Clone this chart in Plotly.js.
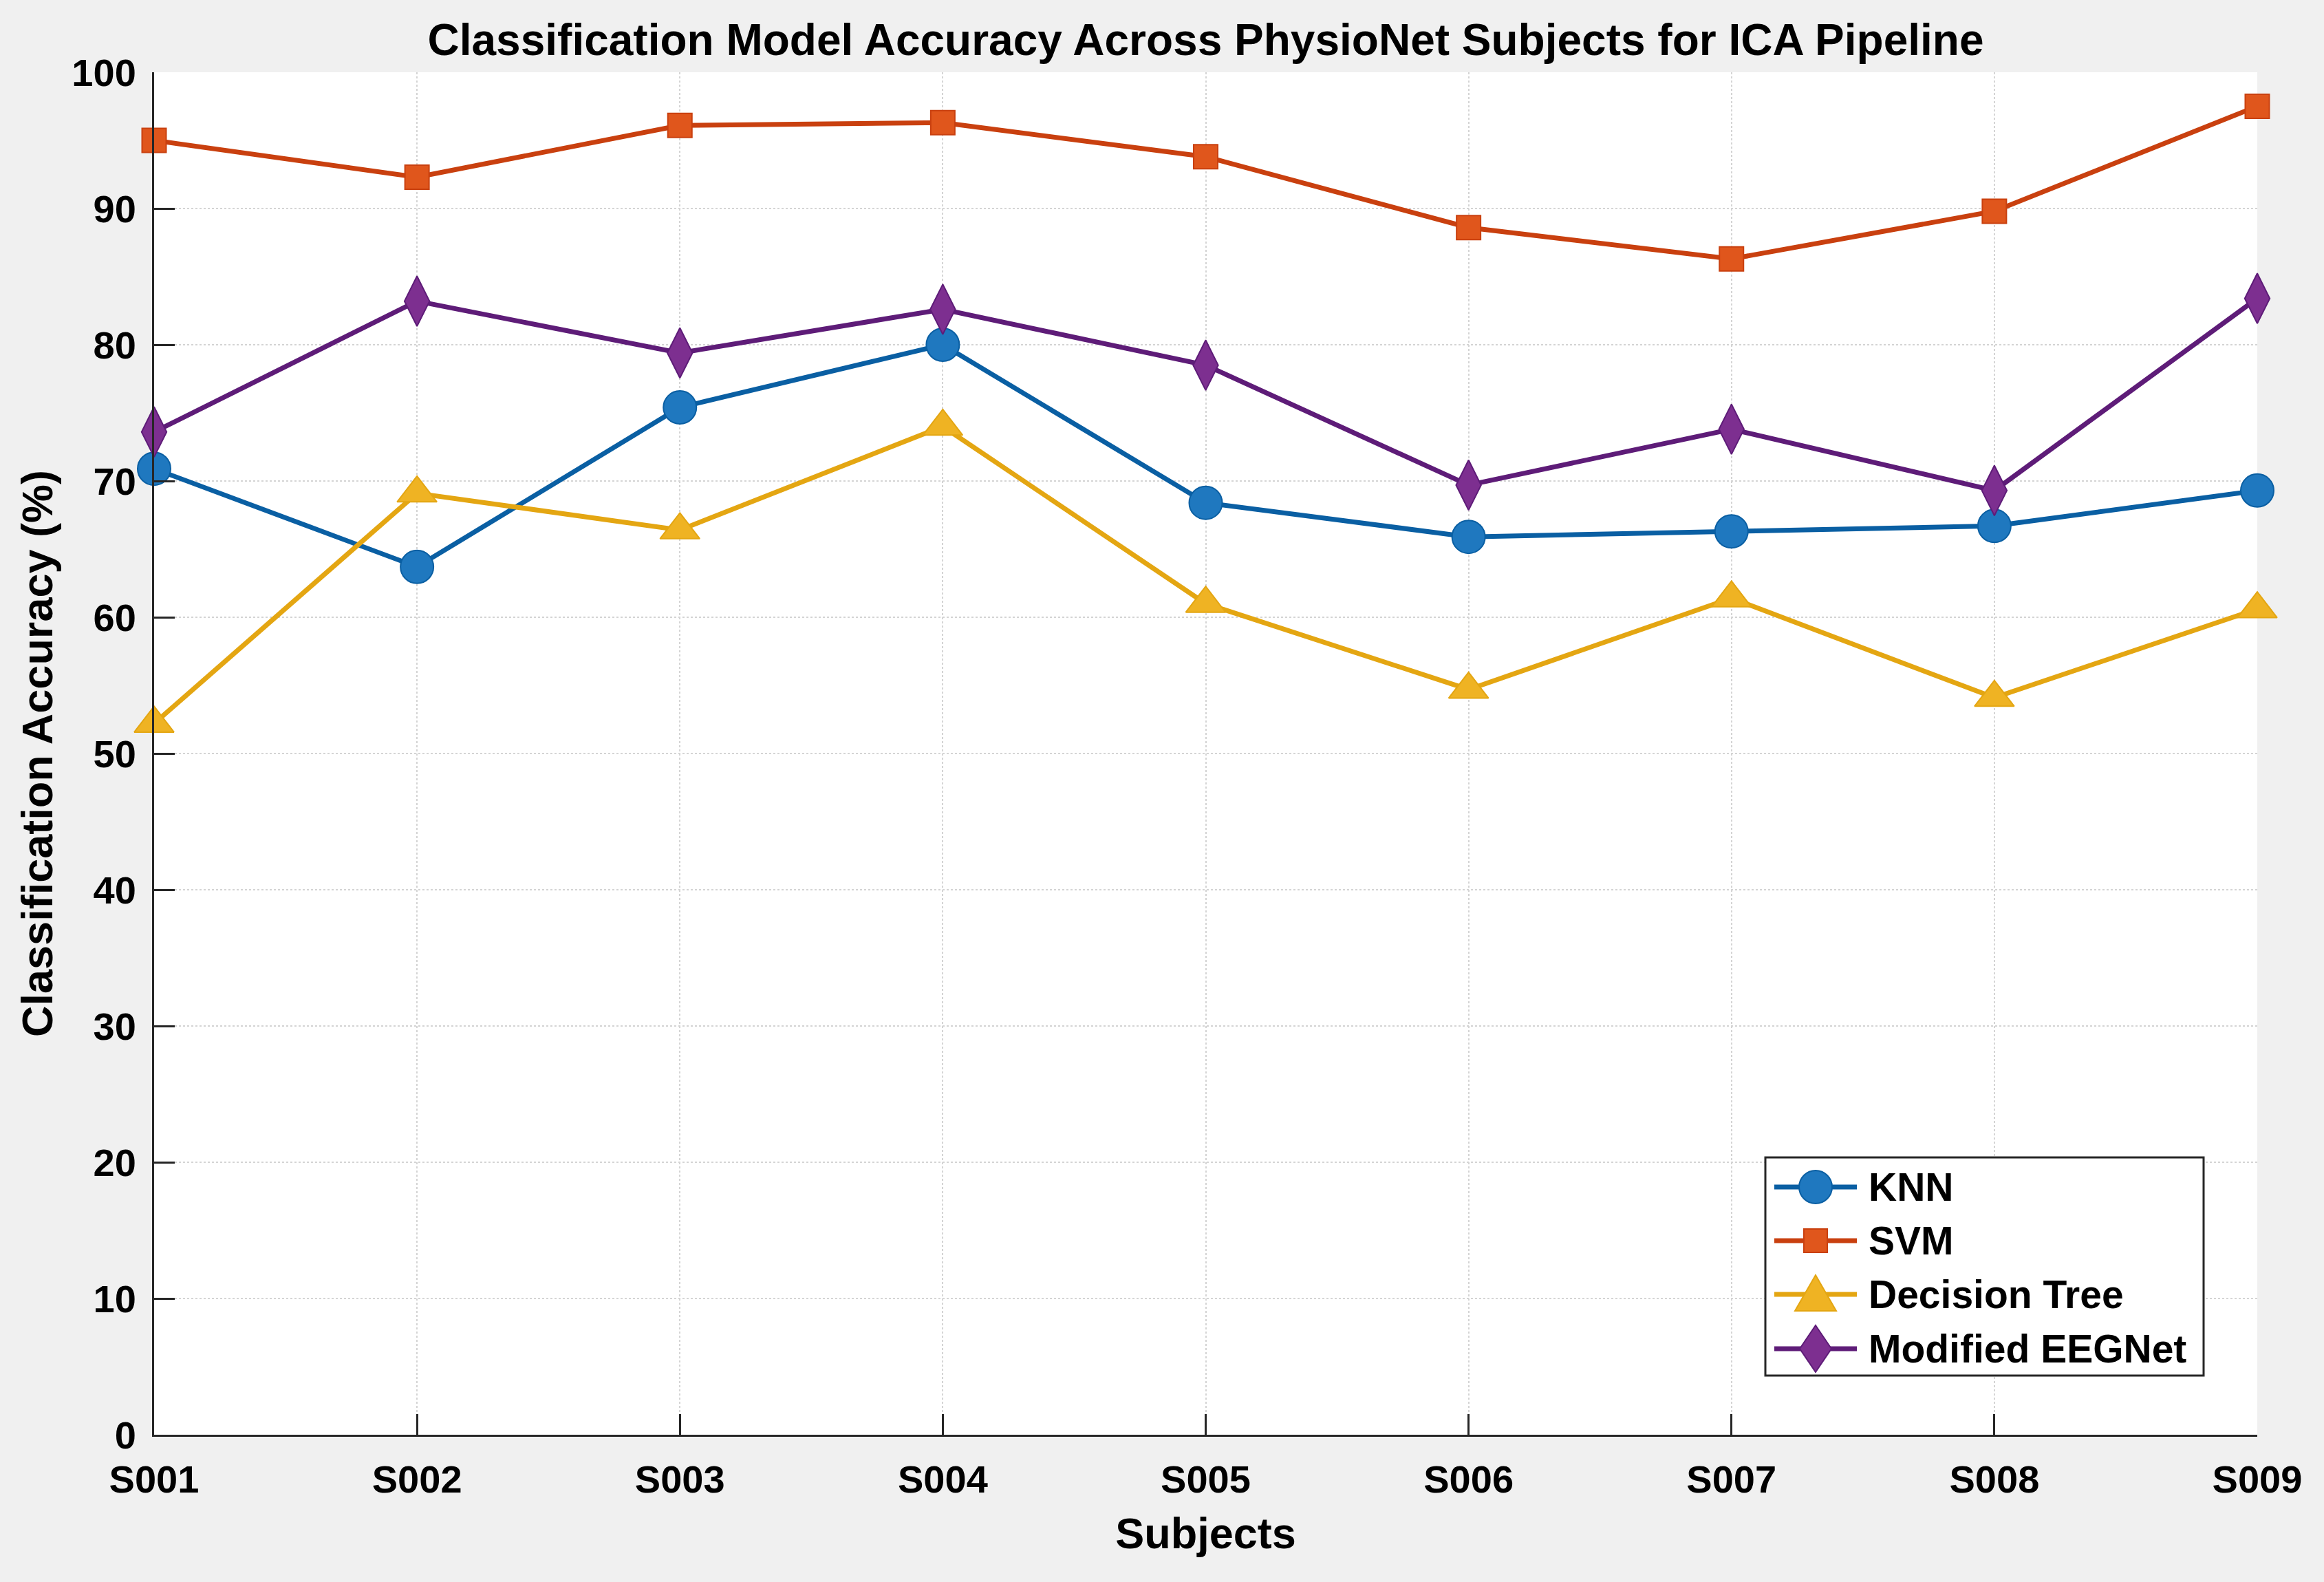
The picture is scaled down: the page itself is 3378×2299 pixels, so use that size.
<!DOCTYPE html>
<html>
<head>
<meta charset="utf-8">
<script src="https://cdn.plot.ly/plotly-3.0.1.min.js"></script>
<style>
  html, body { margin: 0; padding: 0; background: #f0f0f0; }
  #chart { width: 3378px; height: 2299px; }
</style>
</head>
<body>
<div id="chart"></div>
<script>
// values
var subjects = ['S001', 'S002', 'S003', 'S004', 'S005', 'S006', 'S007', 'S008', 'S009'];
var knn = [70.9, 63.7, 75.4, 80.0, 68.4, 65.9, 66.3, 66.7, 69.3];
var svm = [95.0, 92.3, 96.1, 96.3, 93.8, 88.6, 86.3, 89.8, 97.5];
var dtree = [52.2, 69.1, 66.4, 74.0, 61.0, 54.7, 61.4, 54.1, 60.6];
var eegnet = [73.6, 83.2, 79.4, 82.6, 78.5, 69.7, 73.8, 69.3, 83.4];
var yTicks = [0, 10, 20, 30, 40, 50, 60, 70, 80, 90, 100];
var names = ['KNN', 'SVM', 'Decision Tree', 'Modified EEGNet'];

var FONT = 'Liberation Sans, Arial, sans-serif';

// line colour / marker fill per model
var lineCols = ['#0a5fa3', '#c9400f', '#e4a612', '#5e1c78'];
var fillCols = ['#1f78bf', '#e0561c', '#efb323', '#7d2f90'];

function series(i, y, symbol, size) {
    return {
        x: subjects,
        y: y,
        name: names[i],
        type: 'scatter',
        mode: 'lines+markers',
        cliponaxis: false,
        showlegend: false,
        line: {color: lineCols[i], width: 7},
        marker: {
            symbol: symbol,
            size: size,
            color: fillCols[i],
            line: {color: lineCols[i], width: 2}
        }
    };
}

var data = [
    series(0, knn, 'circle', 48),
    series(1, svm, 'square', 35),
    series(2, dtree, 'triangle-up', 50),
    series(3, eegnet, 'diamond-tall', 52)
];

// MATLAB-style legend with big symbols, built from shapes + annotations
// (pixel offsets measured from the plot's bottom-right corner)
var rowUp = [360, 282, 204, 125];
var symX = -642;
var shapes = [{
    type: 'rect', layer: 'above',
    xref: 'paper', yref: 'paper', xsizemode: 'pixel', ysizemode: 'pixel',
    xanchor: 1, yanchor: 0,
    x0: -715, x1: -78, y0: 86, y1: 403,
    fillcolor: '#ffffff', line: {color: '#262626', width: 3}
}];
var annotations = [];
function pxShape(extra) {
    var s = {layer: 'above', xref: 'paper', yref: 'paper',
        xsizemode: 'pixel', ysizemode: 'pixel', xanchor: 1, yanchor: 0};
    for (var k in extra) s[k] = extra[k];
    return s;
}
for (var i = 0; i < names.length; i++) {
    var yc = rowUp[i];
    shapes.push(pxShape({type: 'line', x0: -702, x1: -582, y0: yc, y1: yc,
        line: {color: lineCols[i], width: 7}}));
    var mk = {color: lineCols[i], width: 2};
    if (i == 0) {
        shapes.push(pxShape({type: 'circle', x0: symX - 24, x1: symX + 24, y0: yc - 24, y1: yc + 24,
            fillcolor: fillCols[i], line: mk}));
    } else if (i == 1) {
        shapes.push(pxShape({type: 'rect', x0: symX - 17, x1: symX + 17, y0: yc - 17, y1: yc + 17,
            fillcolor: fillCols[i], line: mk}));
    } else if (i == 2) {
        shapes.push(pxShape({type: 'path',
            path: 'M ' + (symX - 30) + ',' + (yc - 24) + ' L ' + (symX + 30) + ',' + (yc - 24) +
                  ' L ' + symX + ',' + (yc + 28) + ' Z',
            fillcolor: fillCols[i], line: mk}));
    } else {
        shapes.push(pxShape({type: 'path',
            path: 'M ' + symX + ',' + (yc + 34) + ' L ' + (symX + 23) + ',' + yc +
                  ' L ' + symX + ',' + (yc - 34) + ' L ' + (symX - 23) + ',' + yc + ' Z',
            fillcolor: fillCols[i], line: mk}));
    }
    annotations.push({
        text: names[i], showarrow: false,
        xref: 'paper', yref: 'paper', x: 1, y: 0,
        xshift: -567, yshift: yc,
        xanchor: 'left', yanchor: 'middle',
        font: {family: FONT, size: 57, color: '#000', weight: 'bold'}
    });
}

var axisFont = {family: FONT, size: 56, color: '#000', weight: 'bold'};

var layout = {
    width: 3378,
    height: 2299,
    paper_bgcolor: '#f0f0f0',
    plot_bgcolor: '#ffffff',
    margin: {l: 224, r: 97, t: 105, b: 214},
    title: {
        text: 'Classification Model Accuracy Across PhysioNet Subjects for ICA Pipeline',
        font: {family: FONT, size: 64, color: '#000', weight: 'bold'},
        x: 0.5 + (224 - 97) / 2 / 3378, xanchor: 'center',
        y: 1 - 58 / 2299, yanchor: 'middle', yref: 'container'
    },
    xaxis: {
        type: 'category',
        range: [0, subjects.length - 1],
        tickfont: axisFont,
        ticks: 'inside', ticklen: 30, tickwidth: 3, tickcolor: '#262626',
        ticklabelstandoff: 14,
        showline: true, linecolor: '#262626', linewidth: 3, mirror: false,
        showgrid: true, gridcolor: '#d4d4d4', gridwidth: 2, griddash: 'dot',
        zeroline: false,
        title: {text: 'Subjects', font: {family: FONT, size: 63, color: '#000', weight: 'bold'}, standoff: 26}
    },
    yaxis: {
        range: [0, 100],
        tickvals: yTicks,
        tickfont: axisFont,
        ticks: 'inside', ticklen: 30, tickwidth: 3, tickcolor: '#262626',
        ticklabelstandoff: 12,
        showline: true, linecolor: '#262626', linewidth: 3, mirror: false,
        showgrid: true, gridcolor: '#d4d4d4', gridwidth: 2, griddash: 'dot',
        zeroline: false,
        title: {text: 'Classification Accuracy (%)', font: {family: FONT, size: 63, color: '#000', weight: 'bold'}, standoff: 8}
    },
    showlegend: false,
    shapes: shapes,
    annotations: annotations
};

Plotly.newPlot('chart', data, layout, {displayModeBar: false, staticPlot: true});
</script>
</body>
</html>
